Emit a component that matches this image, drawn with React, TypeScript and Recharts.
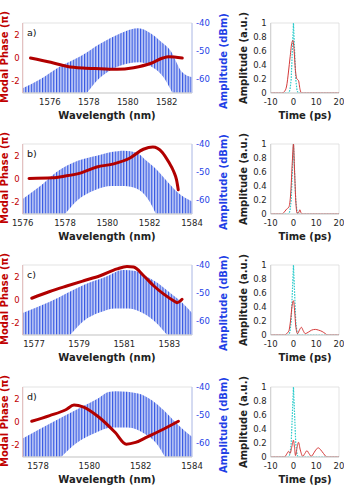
import { ComposedChart, LineChart, Line, Area, XAxis, YAxis, ReferenceArea } from 'recharts';

// panel layout (plot-area tops, px)
const rowTops = [22.5, 144, 265, 386.5];
const panelLetters = ['a)', 'b)', 'c)', 'd)'];

// wavelength axes
const wlDomains = [[1574.6, 1583.3], [1576, 1584], [1576.5, 1584], [1577.4, 1584]];
const wlTicks = [
  [1576, 1578, 1580, 1582],
  [1576, 1578, 1580, 1582, 1584],
  [1577, 1579, 1581, 1583],
  [1578, 1580, 1582, 1584],
];
const phaseTicks = [-2, 0, 2];
const dbmTicks = [-60, -50, -40];
const ampTicks = [0, 0.2, 0.4, 0.6, 0.8, 1];
const timeTicks = [-10, 0, 10, 20];

// spectrum comb: upper envelope of the lines (dBm)
const upperA = [
  { wl: 1574.6, db: -63.3 }, { wl: 1575.5, db: -60.1 }, { wl: 1576.45, db: -55.8 }, { wl: 1577.57, db: -51.9 },
  { wl: 1578.6, db: -47.3 }, { wl: 1579.63, db: -43.7 }, { wl: 1580.14, db: -42.3 }, { wl: 1580.55, db: -41.9 },
  { wl: 1581.17, db: -43.7 }, { wl: 1581.68, db: -46.5 }, { wl: 1582.19, db: -49.8 }, { wl: 1582.8, db: -57.6 },
  { wl: 1583.3, db: -59.4 },
];
const upperB = [
  { wl: 1576.0, db: -59.6 }, { wl: 1576.77, db: -55.4 }, { wl: 1577.6, db: -50 }, { wl: 1578.6, db: -46 },
  { wl: 1579.5, db: -44.2 }, { wl: 1580.2, db: -42.9 }, { wl: 1580.8, db: -42.4 }, { wl: 1581.4, db: -43.2 },
  { wl: 1581.85, db: -46 }, { wl: 1582.3, db: -48.9 }, { wl: 1582.8, db: -53.1 }, { wl: 1583.3, db: -57.1 },
  { wl: 1584.0, db: -60.5 },
];
const upperC = [
  { wl: 1576.5, db: -57.1 }, { wl: 1577.7, db: -53.1 }, { wl: 1579.2, db: -47.1 }, { wl: 1580.16, db: -44.3 },
  { wl: 1580.96, db: -41.8 }, { wl: 1581.5, db: -42.1 }, { wl: 1582.0, db: -44.2 }, { wl: 1582.6, db: -47.1 },
  { wl: 1583.04, db: -50 }, { wl: 1583.58, db: -53.6 }, { wl: 1584.0, db: -57.1 },
];
const upperD = [
  { wl: 1577.4, db: -58.4 }, { wl: 1578.45, db: -53.1 }, { wl: 1579.7, db: -47.1 }, { wl: 1580.35, db: -44 },
  { wl: 1580.74, db: -41.8 }, { wl: 1581.04, db: -41.5 }, { wl: 1581.9, db: -42.3 }, { wl: 1582.45, db: -44.8 },
  { wl: 1582.9, db: -48.3 }, { wl: 1583.4, db: -53 }, { wl: 1584.0, db: -57.8 },
];
// spectrum comb: lower envelope (floor between the lines)
const lowerA = [
  { wl: 1577.9, db: -65 }, { wl: 1578.5, db: -60 }, { wl: 1579.2, db: -56.5 }, { wl: 1580.0, db: -54.5 },
  { wl: 1580.6, db: -54 }, { wl: 1581.2, db: -55.5 }, { wl: 1581.8, db: -59 }, { wl: 1582.3, db: -65 },
];
const lowerB = [
  { wl: 1578.0, db: -65 }, { wl: 1578.6, db: -60 }, { wl: 1579.4, db: -56.5 }, { wl: 1580.2, db: -55 },
  { wl: 1580.8, db: -55 }, { wl: 1581.4, db: -56 }, { wl: 1581.9, db: -59.5 }, { wl: 1582.3, db: -65 },
];
const lowerC = [
  { wl: 1578.6, db: -65 }, { wl: 1579.2, db: -60 }, { wl: 1579.9, db: -57 }, { wl: 1580.6, db: -55.5 },
  { wl: 1581.2, db: -55.5 }, { wl: 1581.9, db: -57.5 }, { wl: 1582.4, db: -60.5 }, { wl: 1582.9, db: -65 },
];
const lowerD = [
  { wl: 1578.9, db: -65 }, { wl: 1579.5, db: -60 }, { wl: 1580.2, db: -56.5 }, { wl: 1580.9, db: -54.5 },
  { wl: 1581.5, db: -54.5 }, { wl: 1582.2, db: -57 }, { wl: 1582.6, db: -60 }, { wl: 1582.95, db: -65 },
];

// modal phase (units of pi)
const phaseA = [
  { wl: 1575.0, ph: 0 }, { wl: 1576.04, ph: -0.37 }, { wl: 1576.9, ph: -0.72 }, { wl: 1577.7, ph: -0.86 },
  { wl: 1578.6, ph: -0.92 }, { wl: 1579.46, ph: -0.97 }, { wl: 1580.3, ph: -0.83 }, { wl: 1581.2, ph: -0.45 },
  { wl: 1581.8, ph: 0 }, { wl: 1582.1, ph: 0.1 }, { wl: 1582.8, ph: 0 },
];
const phaseB = [
  { wl: 1576.3, ph: 0.05 }, { wl: 1577.4, ph: 0.1 }, { wl: 1578.0, ph: 0.25 }, { wl: 1578.76, ph: 0.53 },
  { wl: 1579.5, ph: 1.03 }, { wl: 1580.3, ph: 1.3 }, { wl: 1581.05, ph: 1.78 }, { wl: 1581.7, ph: 2.55 },
  { wl: 1582.15, ph: 2.75 }, { wl: 1582.6, ph: 2.28 }, { wl: 1582.9, ph: 1.45 }, { wl: 1583.14, ph: 0.62 },
  { wl: 1583.27, ph: -0.08 }, { wl: 1583.35, ph: -0.92 },
];
const phaseC = [
  { wl: 1576.9, ph: 0.15 }, { wl: 1577.7, ph: 0.73 }, { wl: 1578.45, ph: 1.2 }, { wl: 1579.2, ph: 1.65 },
  { wl: 1579.93, ph: 2.08 }, { wl: 1580.68, ph: 2.67 }, { wl: 1581.12, ph: 2.87 }, { wl: 1581.41, ph: 2.82 },
  { wl: 1581.86, ph: 2.08 }, { wl: 1582.3, ph: 1.22 }, { wl: 1582.75, ph: 0.5 }, { wl: 1583.2, ph: -0.08 },
  { wl: 1583.34, ph: -0.23 }, { wl: 1583.56, ph: 0.06 },
];
const phaseD = [
  { wl: 1577.75, ph: 0.06 }, { wl: 1578.45, ph: 0.55 }, { wl: 1579.08, ph: 1.05 }, { wl: 1579.4, ph: 1.45 },
  { wl: 1579.75, ph: 1.3 }, { wl: 1580.35, ph: 0.45 }, { wl: 1581.0, ph: -0.88 }, { wl: 1581.44, ph: -1.9 },
  { wl: 1581.8, ph: -1.75 }, { wl: 1582.26, ph: -1.27 }, { wl: 1582.9, ph: -0.6 }, { wl: 1583.47, ph: 0.06 },
];

// transform-limited pulse (cyan, dotted)
const tlPulse = [
  { t: -10, a: 0 }, { t: -2, a: 0 }, { t: -1.5, a: 0.05 }, { t: -1, a: 0.2 }, { t: -0.5, a: 0.6 },
  { t: 0, a: 1 }, { t: 0.5, a: 0.6 }, { t: 1, a: 0.2 }, { t: 1.5, a: 0.05 }, { t: 2, a: 0 }, { t: 20, a: 0 },
];
// measured pulses (red)
const pulseA = [
  { t: -10, a: 0 }, { t: -5, a: 0 }, { t: -4, a: 0.02 }, { t: -3, a: 0.1 }, { t: -2.2, a: 0.3 }, { t: -1.45, a: 0.52 },
  { t: -0.7, a: 0.72 }, { t: -0.2, a: 0.75 }, { t: 0.3, a: 0.6 }, { t: 0.8, a: 0.35 }, { t: 1.5, a: 0.2 },
  { t: 2.2, a: 0.18 }, { t: 2.9, a: 0.05 }, { t: 3.5, a: 0 }, { t: 20, a: 0 },
];
const pulseB = [
  { t: -10, a: 0 }, { t: -5, a: 0 }, { t: -4, a: 0.03 }, { t: -3, a: 0.07 }, { t: -2, a: 0.1 }, { t: -1.2, a: 0.3 },
  { t: -0.5, a: 0.75 }, { t: 0, a: 1 }, { t: 0.5, a: 0.6 }, { t: 1, a: 0.2 }, { t: 1.6, a: 0.01 }, { t: 2.3, a: 0.02 },
  { t: 2.8, a: 0.06 }, { t: 3.3, a: 0.02 }, { t: 4, a: 0 }, { t: 20, a: 0 },
];
const pulseC = [
  { t: -10, a: 0 }, { t: -4, a: 0 }, { t: -3, a: 0.02 }, { t: -2, a: 0.06 }, { t: -1.3, a: 0.2 }, { t: -0.6, a: 0.42 },
  { t: 0, a: 0.49 }, { t: 0.5, a: 0.35 }, { t: 1, a: 0.13 }, { t: 1.8, a: 0.02 }, { t: 2.6, a: 0.07 }, { t: 3.5, a: 0.11 },
  { t: 4.3, a: 0.06 }, { t: 5.2, a: 0.02 }, { t: 6.5, a: 0.04 }, { t: 8, a: 0.07 }, { t: 9.6, a: 0.08 }, { t: 11, a: 0.07 },
  { t: 12.6, a: 0.05 }, { t: 14, a: 0.02 }, { t: 15, a: 0 }, { t: 20, a: 0 },
];
const pulseD = [
  { t: -10, a: 0 }, { t: -4, a: 0 }, { t: -3, a: 0.04 }, { t: -2.2, a: 0.08 }, { t: -1.5, a: 0.05 }, { t: -0.7, a: 0.15 },
  { t: 0, a: 0.24 }, { t: 0.5, a: 0.12 }, { t: 0.9, a: 0.02 }, { t: 1.5, a: 0.12 }, { t: 2.2, a: 0.21 }, { t: 3, a: 0.1 },
  { t: 4.1, a: 0.01 }, { t: 5, a: 0.05 }, { t: 5.9, a: 0.09 }, { t: 6.8, a: 0.05 }, { t: 7.8, a: 0.01 }, { t: 9, a: 0.06 },
  { t: 10, a: 0.11 }, { t: 11, a: 0.13 }, { t: 12, a: 0.1 }, { t: 13.2, a: 0.05 }, { t: 14.2, a: 0.01 }, { t: 15, a: 0 },
  { t: 20, a: 0 },
];

const uppers = [upperA, upperB, upperC, upperD];
const lowers = [lowerA, lowerB, lowerC, lowerD];
const phases = [phaseA, phaseB, phaseC, phaseD];
const pulses = [pulseA, pulseB, pulseC, pulseD];

const FONT = '"DejaVu Sans", Verdana, sans-serif';
const RED = '#c00000';
const BLUE = '#1f3fe6';
const PLOT_H = 70;

function Label({ x, y, text, color, rotate }: { x: number; y: number; text: string; color: string; rotate?: boolean }) {
  return (
    <div style={{
      position: 'absolute', left: x, top: y, whiteSpace: 'nowrap', fontFamily: FONT, fontWeight: 700, fontSize: 10,
      color, lineHeight: 1, transform: `translate(-50%, -50%)${rotate ? ' rotate(-90deg)' : ''}`,
    }}>{text}</div>
  );
}

function SpectrumPanel({ i }: { i: number }) {
  const top = rowTops[i];
  const [x1, x2] = wlDomains[i];
  return (
    <div style={{ position: 'absolute', left: 0, top: top - 5 }}>
      <ComposedChart width={232} height={97} margin={{ top: 5, right: 0, bottom: 0, left: 0 }} style={{ fontFamily: FONT }}>
        <defs>
          <pattern id={`comb${i}`} width={2.8} height={4} patternUnits="userSpaceOnUse">
            <rect width={2.8} height={4} fill="#cbd4f8" />
            <rect width={1.2} height={4} fill="#3658e2" />
          </pattern>
        </defs>
        <XAxis type="number" dataKey="wl" domain={wlDomains[i]} ticks={wlTicks[i]} allowDataOverflow interval={0}
          height={22} tickLine={false} tickSize={0} tickMargin={6}
          tick={{ fontSize: 8.5, fill: '#262626' }} axisLine={{ stroke: '#cfcfcf' }} />
        <YAxis yAxisId="phase" domain={[-3, 3]} ticks={phaseTicks} allowDataOverflow interval={0} width={22.7}
          tickLine={false} tickSize={0} tickMargin={3}
          tick={{ fontSize: 8.5, fill: RED }} axisLine={{ stroke: '#e2b8b8' }} />
        <YAxis yAxisId="dbm" orientation="right" domain={[-65, -40]} ticks={dbmTicks} allowDataOverflow interval={0} width={40}
          tickLine={false} tickSize={0} tickMargin={4}
          tick={{ fontSize: 8.5, fill: BLUE }} axisLine={{ stroke: '#b8c4f2' }} />
        <Area yAxisId="dbm" data={uppers[i]} dataKey="db" type="monotone" baseValue={-65}
          fill={`url(#comb${i})`} fillOpacity={1} stroke="none" isAnimationActive={false} />
        <Area yAxisId="dbm" data={lowers[i]} dataKey="db" type="monotone" baseValue={-65}
          fill="#ffffff" fillOpacity={1} stroke="none" isAnimationActive={false} />
        <ReferenceArea yAxisId="phase" x1={x1} x2={x2} y1={-3} y2={3} fill="none" stroke="#dcdcdc" strokeWidth={0.8} />
        <Line yAxisId="phase" data={phases[i]} dataKey="ph" type="monotone" stroke="#b10000"
          strokeWidth={3} strokeLinecap="round" dot={false} isAnimationActive={false} />
      </ComposedChart>
    </div>
  );
}

function PulsePanel({ i }: { i: number }) {
  const top = rowTops[i];
  return (
    <div style={{ position: 'absolute', left: 250, top: top - 5 }}>
      <LineChart width={94} height={97} margin={{ top: 5, right: 5, bottom: 0, left: 0 }} style={{ fontFamily: FONT }}>
        <XAxis type="number" dataKey="t" domain={[-10, 20]} ticks={timeTicks} allowDataOverflow interval={0}
          height={22} tickLine={false} tickSize={0} tickMargin={6}
          tick={{ fontSize: 8.5, fill: '#262626' }} axisLine={{ stroke: '#cfcfcf' }} />
        <YAxis domain={[0, 1]} ticks={ampTicks} allowDataOverflow interval={0} width={20.7}
          tickLine={false} tickSize={0} tickMargin={4}
          tick={{ fontSize: 8.5, fill: '#262626' }} axisLine={{ stroke: '#cfcfcf' }} />
        <ReferenceArea x1={-10} x2={20} y1={0} y2={1} fill="none" stroke="#dcdcdc" strokeWidth={0.8} />
        <Line data={tlPulse} dataKey="a" type="linear" stroke="#2fcccc" strokeWidth={1.2} strokeDasharray="1.6 1.2"
          dot={false} isAnimationActive={false} />
        <Line data={pulses[i]} dataKey="a" type="monotone" stroke="#d43a3a" strokeWidth={1}
          dot={false} isAnimationActive={false} />
      </LineChart>
    </div>
  );
}

export default function App() {
  return (
    <div style={{ position: 'absolute', left: 0, top: 0, width: 344, height: 486, background: '#fff', overflow: 'hidden' }}>
      {rowTops.map((top, i) => (
        <div key={i}>
          <SpectrumPanel i={i} />
          <PulsePanel i={i} />
          <div style={{ position: 'absolute', left: 27, top: top + 4, fontFamily: FONT, fontSize: 9.5, color: '#111' }}>
            {panelLetters[i]}
          </div>
          <Label x={4.5} y={top + 34} text="Modal Phase (π)" color={RED} rotate />
          <Label x={224} y={top + 38} text="Amplitude (dBm)" color={BLUE} rotate />
          <Label x={243.5} y={top + 35} text="Amplitude (a.u.)" color="#222" rotate />
          <Label x={107} y={top + PLOT_H + 23} text="Wavelength (nm)" color="#222" />
          <Label x={305} y={top + PLOT_H + 23} text="Time (ps)" color="#222" />
        </div>
      ))}
    </div>
  );
}
